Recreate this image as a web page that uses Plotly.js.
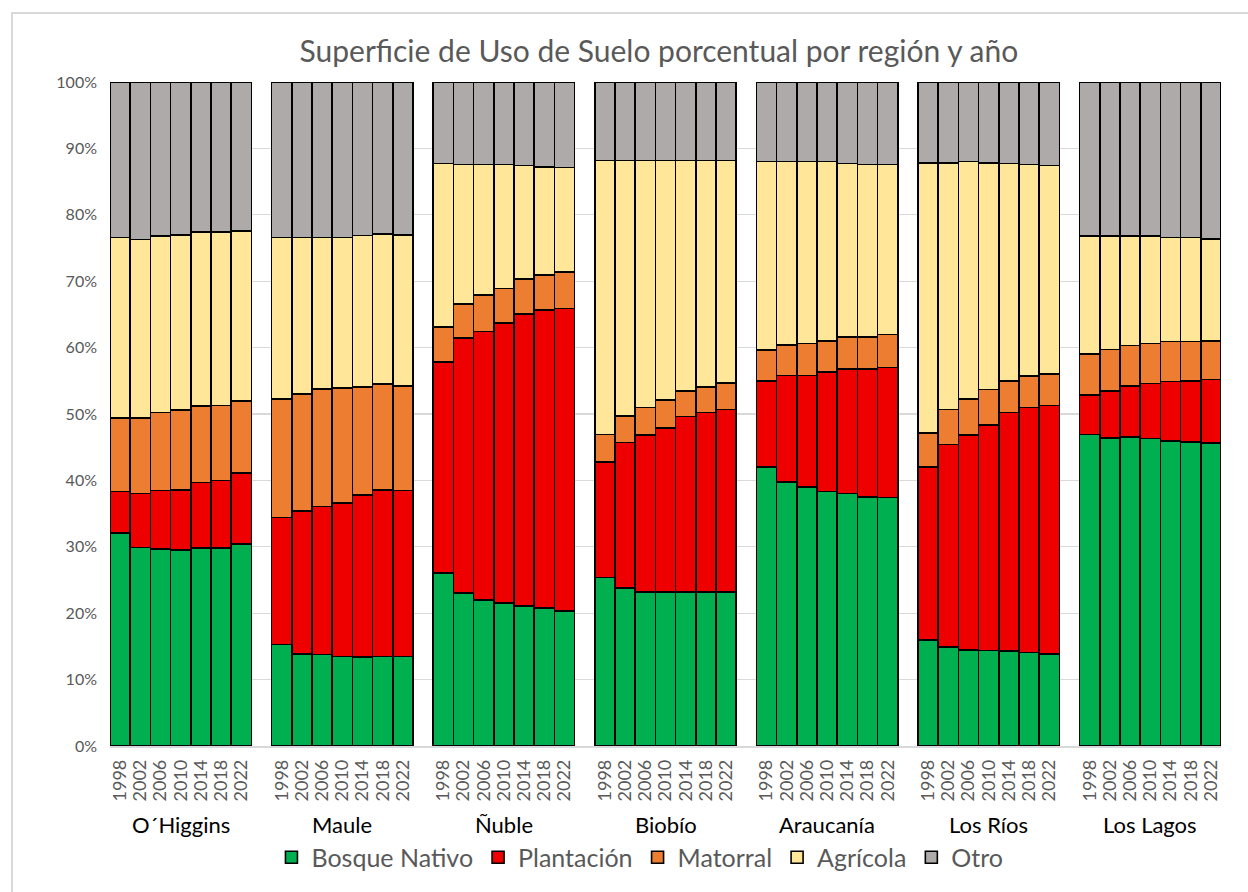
<!DOCTYPE html>
<html>
<head>
<meta charset="utf-8">
<script src="https://cdn.plot.ly/plotly-3.0.1.min.js"></script>
<style>
html,body{margin:0;padding:0;background:#fff;}
#wrap{position:relative;width:1248px;height:892px;overflow:hidden;}
#frame{position:absolute;left:11px;top:12px;width:1260px;height:900px;border:2px solid #d9d9d9;box-sizing:border-box;pointer-events:none;z-index:5;}
#chart{position:absolute;left:0;top:0;width:1248px;height:892px;}
</style>
</head>
<body>
<div id="wrap"><div id="chart"></div><div id="frame"></div></div>
<script>
const regions = ["O´Higgins", "Maule", "Ñuble", "Biobío", "Araucanía", "Los Ríos", "Los Lagos"];
const years = ["1998", "2002", "2006", "2010", "2014", "2018", "2022"];

// Percent of surface per region (rows) and year (columns)
const bosqueNativo = [
  [32.1, 29.9, 29.7, 29.5, 29.8, 29.8, 30.4],
  [15.3, 13.9, 13.8, 13.5, 13.4, 13.5, 13.5],
  [26.1, 23.0, 22.0, 21.5, 21.1, 20.8, 20.3],
  [25.4, 23.8, 23.2, 23.2, 23.2, 23.2, 23.2],
  [42.0, 39.8, 39.0, 38.3, 38.0, 37.5, 37.4],
  [16.0, 14.9, 14.5, 14.4, 14.3, 14.1, 13.9],
  [46.9, 46.4, 46.5, 46.3, 45.9, 45.8, 45.6]
];
const plantacion = [
  [6.2, 8.1, 8.8, 9.1, 9.9, 10.2, 10.7],
  [19.1, 21.5, 22.3, 23.1, 24.4, 25.1, 25.0],
  [31.7, 38.4, 40.4, 42.2, 44.0, 44.9, 45.6],
  [17.4, 21.9, 23.6, 24.7, 26.4, 27.0, 27.5],
  [13.0, 16.0, 16.8, 18.0, 18.8, 19.3, 19.6],
  [26.0, 30.5, 32.3, 33.9, 35.9, 36.9, 37.4],
  [6.0, 7.1, 7.7, 8.3, 9.0, 9.2, 9.6]
];
const matorral = [
  [11.1, 11.4, 11.7, 12.0, 11.5, 11.3, 10.9],
  [17.9, 17.6, 17.7, 17.3, 16.3, 15.9, 15.7],
  [5.3, 5.2, 5.5, 5.2, 5.2, 5.2, 5.5],
  [4.1, 4.0, 4.2, 4.2, 3.9, 3.9, 4.0],
  [4.6, 4.6, 4.8, 4.7, 4.8, 4.8, 5.0],
  [5.1, 5.3, 5.5, 5.4, 4.8, 4.7, 4.7],
  [6.1, 6.2, 6.1, 6.0, 6.0, 5.9, 5.8]
];
const agricola = [
  [27.2, 26.9, 26.6, 26.4, 26.2, 26.1, 25.6],
  [24.3, 23.6, 22.8, 22.7, 22.8, 22.6, 22.8],
  [24.6, 21.0, 19.7, 18.7, 17.1, 16.3, 15.7],
  [41.3, 38.5, 37.2, 36.1, 34.7, 34.1, 33.5],
  [28.4, 27.6, 27.4, 27.0, 26.1, 26.0, 25.6],
  [40.7, 37.1, 35.7, 34.1, 32.7, 31.9, 31.4],
  [17.8, 17.1, 16.5, 16.2, 15.7, 15.7, 15.4]
];
const otro = [
  [23.4, 23.7, 23.2, 23.0, 22.6, 22.6, 22.4],
  [23.4, 23.4, 23.4, 23.4, 23.1, 22.9, 23.0],
  [12.3, 12.4, 12.4, 12.4, 12.6, 12.8, 12.9],
  [11.8, 11.8, 11.8, 11.8, 11.8, 11.8, 11.8],
  [12.0, 12.0, 12.0, 12.0, 12.3, 12.4, 12.4],
  [12.2, 12.2, 12.0, 12.2, 12.3, 12.4, 12.6],
  [23.2, 23.2, 23.2, 23.2, 23.4, 23.4, 23.6]
];

const seriesNames = ["Bosque Nativo", "Plantación", "Matorral", "Agrícola", "Otro"];
const seriesData = [bosqueNativo, plantacion, matorral, agricola, otro];
const seriesColors = ["#00B050", "#EE0000", "#ED7D31", "#FFE699", "#AEAAAA"];

// Category slots: 7 bars per region plus one empty slot between regions
const slot = years.length + 1;
const xs = [], tickText = [];
regions.forEach((r, i) => years.forEach((y, j) => { xs.push(i * slot + j); tickText.push(y); }));

const FONT = 'Lato, "Noto Sans", sans-serif';

const traces = seriesNames.map((name, k) => ({
  type: 'bar',
  name: name,
  x: xs,
  y: seriesData[k].flat(),
  width: 1,
  marker: { color: seriesColors[k], line: { color: '#000', width: 1.6 } },
  hovertemplate: '%{y:.1f}%<extra>' + name + '</extra>'
}));

const annotations = regions.map((r, i) => ({
  text: r, x: i * slot + (years.length - 1) / 2, xref: 'x',
  y: -0.118, yref: 'paper', yanchor: 'middle', showarrow: false,
  font: { family: FONT, size: 22, color: '#000' }
}));

const layout = {
  width: 1248, height: 892,
  margin: { l: 110, r: 27, t: 82, b: 143 },
  paper_bgcolor: '#fff', plot_bgcolor: '#fff',
  barmode: 'stack', bargap: 0,
  title: { text: 'Superficie de Uso de Suelo porcentual por región y año',
    x: 0.528, xanchor: 'center', y: 0.942, yanchor: 'middle',
    font: { family: FONT, size: 30, color: '#595959' } },
  xaxis: {
    range: [-0.5, regions.length * slot - 1.5],
    tickmode: 'array', tickvals: xs, ticktext: tickText, tickangle: -90,
    tickfont: { family: FONT, size: 18, color: '#595959' },
    ticklabelstandoff: 5,
    showgrid: false, zeroline: false, showline: true, linecolor: '#d9d9d9', linewidth: 1.5,
    ticks: '', fixedrange: true
  },
  yaxis: {
    range: [0, 100], dtick: 10, ticksuffix: '%',
    tickfont: { family: FONT, size: 16, color: '#595959' },
    ticklabelstandoff: 12,
    showgrid: true, gridcolor: '#d9d9d9', gridwidth: 1.2, zeroline: false, showline: false,
    ticks: '', ticklen: 0, fixedrange: true
  },
  legend: {
    orientation: 'h', x: 0.477, xanchor: 'center', y: -0.168, yanchor: 'middle',
    traceorder: 'normal',
    font: { family: FONT, size: 25, color: '#595959' },
    itemwidth: 30
  },
  annotations: annotations,
  showlegend: true
};

Plotly.newPlot('chart', traces, layout, { displayModeBar: false, staticPlot: true });
</script>
</body>
</html>
